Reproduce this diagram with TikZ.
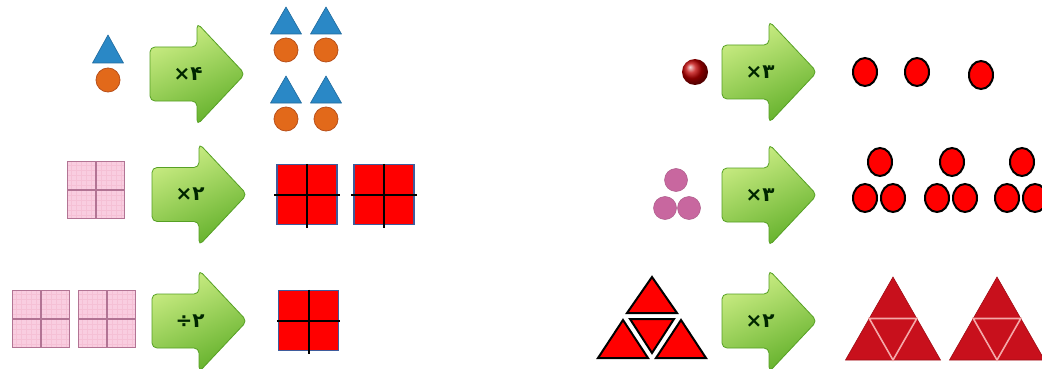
\documentclass[tikz,border=0pt]{standalone}
\usepackage{fontspec}
\newfontfamily\fafont{DejaVu Sans}
\usetikzlibrary{shapes.geometric}
\definecolor{arrowlight}{HTML}{CDEE86}
\definecolor{arrowdark}{HTML}{62B02A}
\definecolor{arrowedge}{HTML}{56A024}
\definecolor{tribl}{HTML}{2A88C6}
\definecolor{triedge}{HTML}{1F6A9E}
\definecolor{dotor}{HTML}{E2691A}
\definecolor{dotoredge}{HTML}{B8501A}
\definecolor{sqred}{HTML}{FF0000}
\definecolor{sqblue}{HTML}{3F5C9C}
\definecolor{pinkfill}{HTML}{F9CDE0}
\definecolor{pinkgrid}{HTML}{F5C0D5}
\definecolor{pinkline}{HTML}{B27494}
\definecolor{pinkdot}{HTML}{C8679F}
\definecolor{tridark}{HTML}{C8101C}
\definecolor{trilines}{HTML}{F4A8A8}
\tikzset{
	oplabel/.style={
			inner sep=0pt,
			text=black!85!green,
			font=\fafont\bfseries\fontsize{20}{20}\selectfont
		},
	pics/oparrow/.style={
			code={
					\path[rounded corners=5pt, draw=arrowedge, line width=0.8pt,
						top color=arrowlight, bottom color=arrowdark, shading angle=25]
					(0,-27) -- (47,-27) -- (47,-51) -- (95,0) -- (47,51) -- (47,27)
					-- (0,27) -- cycle;
					\node[oplabel] (-lbl) at (38,0) {#1};
				}
		},
	redsq/.style={
			rectangle,
			fill=sqred,
			draw=sqblue,
			line width=1.5pt,
			minimum size=60pt,
			inner sep=0pt
		},
	pinksq/.style={
			rectangle,
			fill=pinkfill,
			draw=pinkline,
			line width=0.8pt,
			minimum size=57pt,
			inner sep=0pt,
			path picture={
					\draw[pinkgrid, line width=0.3pt]
					(path picture bounding box.south west) grid[step=5pt]
					(path picture bounding box.north east);
				}
		},
	crossline/.style={black, line width=2pt},
	pinkcross/.style={pinkline, line width=1.2pt},
	bluetri/.style={fill=tribl, draw=triedge, line width=0.6pt, line join=round},
	orangedot/.style={circle, fill=dotor, draw=dotoredge, line width=0.8pt,
			minimum size=24pt, inner sep=0pt},
	pinkball/.style={circle, fill=pinkdot, draw=pinkdot!85!black, line width=0.5pt,
			minimum size=23pt, inner sep=0pt},
	redoval/.style={ellipse, fill=sqred, draw=black, line width=2pt,
			minimum width=24pt, minimum height=28pt, inner sep=0pt},
	smalltri/.style={fill=sqred, draw=black, line width=2pt, line join=miter},
	bigtri/.style={fill=tridark, draw=tridark!80!black, line width=0.6pt}
}

\begin{document}
\begin{tikzpicture}[x=1pt, y=-1pt]

	\useasboundingbox[fill=white] (0,0) rectangle (1042,369);

	% first row, left
	\draw[bluetri] (108,35) -- (123.5,63) -- (92.5,63) -- cycle;
	\node[orangedot] (o0) at (108,80) {};
	\pic (a1) at (150,74) {oparrow={×۴}};
	\foreach \cx in {286,326} {
			\foreach \cy in {7,76} {
					\draw[bluetri] (\cx,\cy) -- ++(15.5,27) -- ++(-31,0) -- cycle;
					\node[orangedot] at (\cx,\cy+43) {};
				}
		}

	% second row, left
	\node[pinksq] (p1) at (96,190) {};
	\draw[pinkcross] (p1.north) -- (p1.south);
	\draw[pinkcross] (p1.west) -- (p1.east);
	\pic (a2) at (152,194.5) {oparrow={×۲}};
	\foreach \nm/\cx in {r1/307, r2/384} {
			\node[redsq] (\nm) at (\cx,194.5) {};
			\draw[crossline] (\nm.north) -- ([yshift=-3pt]\nm.south);
			\draw[crossline] ([xshift=-2pt]\nm.west) -- ([xshift=2pt]\nm.east);
		}

	% third row, left
	\foreach \nm/\cx in {p2/41, p3/107} {
			\node[pinksq] (\nm) at (\cx,319) {};
			\draw[pinkcross] (\nm.north) -- (\nm.south);
			\draw[pinkcross] (\nm.west) -- (\nm.east);
		}
	\pic (a3) at (152,321) {oparrow={÷۲}};
	\node[redsq] (r3) at (308.5,320.5) {};
	\draw[crossline] (r3.north) -- ([yshift=-3pt]r3.south);
	\draw[crossline] ([xshift=-1pt]r3.west) -- ([xshift=1pt]r3.east);

	% first row, right
	\shade[ball color=red!75!black] (695,72) circle[radius=13];
	\pic (a4) at (722,72) {oparrow={×۳}};
	\node[redoval] (e1) at (865,72) {};
	\node[redoval] (e2) at (917,72) {};
	\node[redoval] (e3) at (981,75) {};

	% second row, right
	\node[pinkball] (b1) at (676,180) {};
	\node[pinkball] (b2) at (665,208) {};
	\node[pinkball] (b3) at (689,208) {};
	\pic (a5) at (722,195) {oparrow={×۳}};
	\foreach \gx in {0,72,142} {
			\node[redoval] at (880+\gx,162) {};
			\node[redoval] at (865+\gx,198) {};
			\node[redoval] at (893+\gx,198) {};
		}

	% third row, right
	\draw[smalltri] (652,277) -- (677,313) -- (627,313) -- cycle;
	\draw[smalltri] (623,320) -- (648,358) -- (598,358) -- cycle;
	\draw[smalltri] (681,320) -- (706,358) -- (656,358) -- cycle;
	\draw[smalltri] (630,319) -- (674,319) -- (652,353) -- cycle;
	\pic (a6) at (722,321) {oparrow={×۲}};
	\foreach \tx in {893,997} {
			\draw[bigtri] (\tx,277) -- (\tx+47.5,360) -- (\tx-47.5,360) -- cycle;
			\draw[trilines, line width=1.6pt]
			(\tx-23.75,318.5) -- (\tx+23.75,318.5) -- (\tx,360) -- cycle;
		}

\end{tikzpicture}
\end{document}
